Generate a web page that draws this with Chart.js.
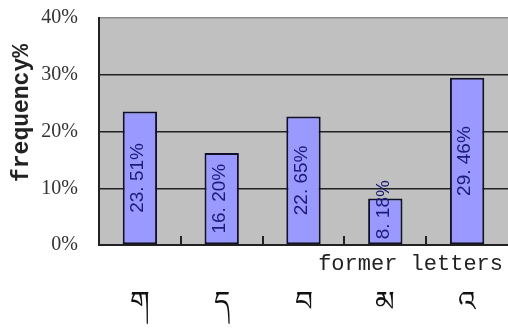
<!DOCTYPE html>
<html>
<head>
<meta charset="utf-8">
<script src="https://cdn.jsdelivr.net/npm/chart.js@4/dist/chart.umd.min.js"></script>
<style>
    body { margin: 0; background: #fff; }
    canvas { display: block; }
</style>
</head>
<body>
<canvas id="freqChart" width="508" height="329"></canvas>
<script>
// data
const letters = ['ག', 'ད', 'བ', 'མ', 'འ'];
const freq = [23.51, 16.20, 22.65, 8.18, 29.46];
const yTicks = [0, 10, 20, 30, 40];
const yTitle = 'frequency%';
const xTitle = 'former letters';

// gray plot background + extra texts
const decorPlugin = {
    id: 'decor',
    beforeDraw(chart) {
        const { ctx, chartArea: a } = chart;
        ctx.save();
        ctx.fillStyle = '#c0c0c0';
        ctx.fillRect(a.left, a.top, a.right - a.left, a.bottom - a.top);
        ctx.restore();
    },
    afterDatasetsDraw(chart) {
        const { ctx, chartArea: a } = chart;
        const xs = chart.scales.x;

        // small tick marks between categories, pointing up
        ctx.save();
        ctx.strokeStyle = '#222';
        ctx.lineWidth = 2;
        for (let i = 0; i < letters.length - 1; i++) {
            const x = Math.round((xs.getPixelForTick(i) + xs.getPixelForTick(i + 1)) / 2);
            ctx.beginPath();
            ctx.moveTo(x, a.bottom);
            ctx.lineTo(x, a.bottom - 9);
            ctx.stroke();
        }

        // value labels, rotated inside bars
        const meta = chart.getDatasetMeta(0);
        ctx.font = '19px "Liberation Sans"';
        ctx.fillStyle = '#1c1c78';
        ctx.textAlign = 'center';
        ctx.textBaseline = 'middle';
        meta.data.forEach((bar, i) => {
            const txt = freq[i].toFixed(2).replace('.', '. ') + '%';
            const w = ctx.measureText(txt).width;
            const cy = Math.min((bar.y + bar.base) / 2, bar.base - 5 - w / 2);
            ctx.save();
            ctx.translate(bar.x - 2, cy);
            ctx.rotate(-Math.PI / 2);
            ctx.fillText(txt, 0, 0);
            ctx.restore();
        });

        // axis titles
        ctx.fillStyle = '#222';
        ctx.font = '22px "Liberation Mono"';
        ctx.textAlign = 'right';
        ctx.textBaseline = 'alphabetic';
        ctx.fillText(xTitle, 503, 270);

        ctx.font = 'bold 23px "Liberation Mono"';
        ctx.textAlign = 'center';
        ctx.textBaseline = 'middle';
        ctx.translate(22, 113);
        ctx.rotate(-Math.PI / 2);
        ctx.fillText(yTitle, 0, 0);
        ctx.restore();
    }
};

new Chart(document.getElementById('freqChart'), {
    type: 'bar',
    data: {
        labels: letters,
        datasets: [{
            data: freq,
            backgroundColor: '#9999ff',
            borderColor: '#10102a',
            borderWidth: 2,
            borderSkipped: false,
            barPercentage: 0.42,
            categoryPercentage: 1
        }]
    },
    options: {
        responsive: false,
        animation: false,
        layout: { padding: { top: 18, right: 0, left: 0, bottom: 0 } },
        plugins: {
            legend: { display: false },
            tooltip: { enabled: false }
        },
        scales: {
            x: {
                offset: true,
                grid: { display: false, drawTicks: false },
                border: { display: true, color: '#222', width: 2 },
                ticks: {
                    color: '#111',
                    font: { size: 28, family: 'serif' },
                    padding: 42,
                    maxRotation: 0
                },
                afterFit(scale) {
                    scale.height = 84;
                    scale.paddingLeft = 0;
                    scale.paddingRight = 0;
                }
            },
            y: {
                min: 0,
                max: 40,
                afterBuildTicks(scale) {
                    scale.ticks = yTicks.map(v => ({ value: v }));
                },
                grid: {
                    drawTicks: false,
                    color: ctx => (ctx.tick && ctx.tick.value === 40 ? '#8a8a8a' : '#222'),
                    lineWidth: 1.5
                },
                border: { display: true, color: '#222', width: 2 },
                ticks: {
                    color: '#333',
                    font: { size: 20, family: '"Liberation Serif"' },
                    padding: 21,
                    callback: v => v + '%'
                },
                afterFit(scale) {
                    scale.width = 99;
                    scale.paddingTop = 0;
                    scale.paddingBottom = 0;
                }
            }
        }
    },
    plugins: [decorPlugin]
});
</script>
</body>
</html>
